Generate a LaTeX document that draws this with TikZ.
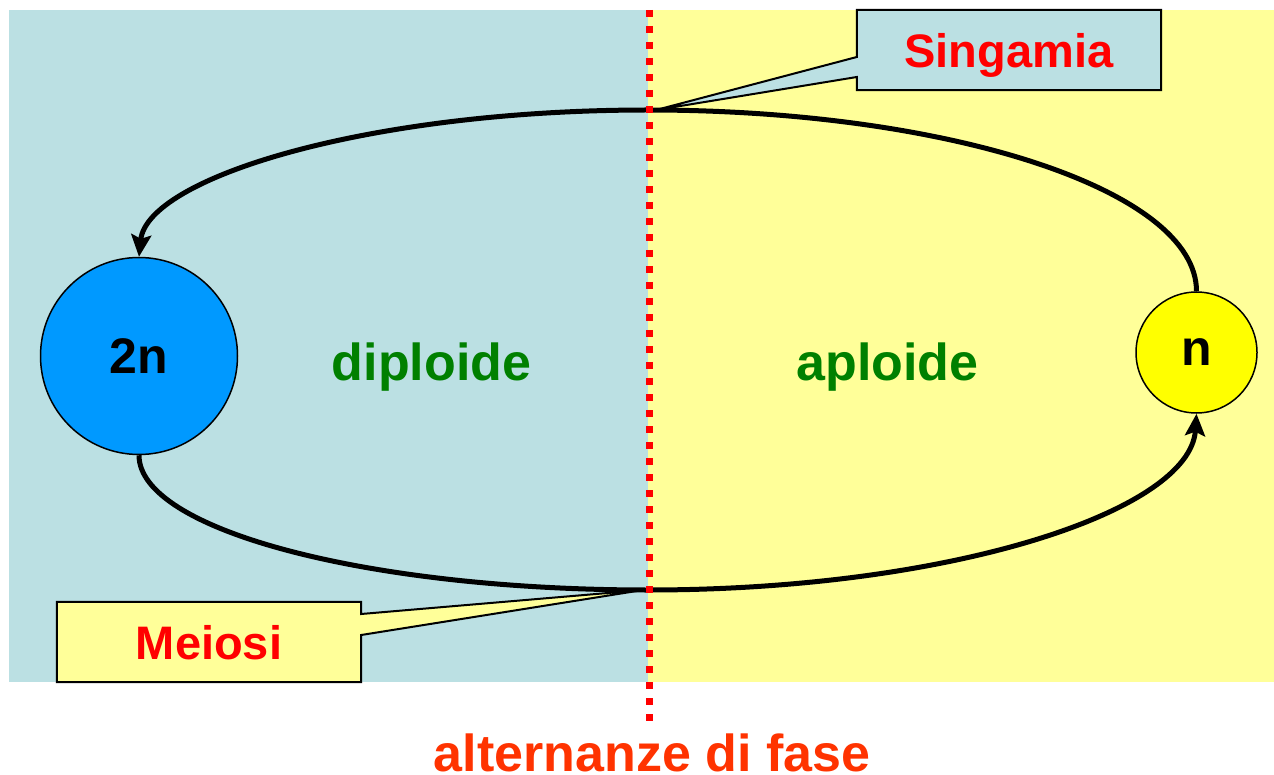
\documentclass[tikz,border=0pt]{standalone}
\usepackage{fontspec}
\setmainfont{Liberation Sans}
\usepackage{tikz}
\usetikzlibrary{arrows.meta}
\definecolor{paneblue}{HTML}{BBE0E3}
\definecolor{paneyellow}{HTML}{FFFF99}
\definecolor{cellblue}{HTML}{0099FF}
\definecolor{cellyellow}{HTML}{FFFF00}
\definecolor{phasegreen}{HTML}{008000}
\definecolor{phasered}{HTML}{FF3300}

\begin{document}
\begin{tikzpicture}[x=1pt,y=-1pt,>={Stealth[length=22pt,width=20pt,inset=4pt]},
		cell/.style={draw,circle,line width=1.5pt,inner sep=0pt,font=\fontsize{50}{60}\selectfont\bfseries},
		phase/.style={text=phasegreen,anchor=base,font=\fontsize{52}{62}\selectfont\bfseries},
		tag/.style={text=red,text depth=0pt,font=\fontsize{47}{56}\selectfont\bfseries},
		tagbox/.style={minimum width=304pt,minimum height=80pt,inner sep=0pt},
		calloutbox/.style={draw,line width=2pt,line join=miter},
		lifearrow/.style={->,line width=5pt}]
		\useasboundingbox (0,0) rectangle (1274,775);
		\fill[white] (0,0) rectangle (1274,775);
		\fill[paneblue] (9,10) rectangle (648,682);
		\fill[paneyellow] (648,10) rectangle (1274,682);
		
		\node[cell,fill=cellblue,minimum size=197pt] (dip) at (139,356) {2n};
		\node[cell,fill=cellyellow,minimum size=121pt] (ap) at (1196.5,352.5) {n};
		\node[phase] (dtxt) at (431.5,381) {diploide};
		\node[phase] (atxt) at (887.5,381) {aploide};
		
		\coordinate (syn) at (656,110);
		\coordinate (mei) at (643,590);
		\draw[lifearrow] (ap.north) .. controls +(0,-100.5) and (951,110) .. (648,110) .. controls (367,110) and (147,178) .. (dip.north);
		\draw[lifearrow] (dip.south) .. controls +(0,74.6) and (367,590) .. (648,590) .. controls (951,590) and (1190,511) .. (ap.south);
		
		\coordinate (ftop) at (649,10);
		\coordinate (fbot) at (649,722);
		\draw[red,line width=7pt,dash pattern=on 7pt off 9pt] (ftop) -- (fbot);
		
		\path node[tagbox] (sing) at (1009,50) {};
		\draw[calloutbox,fill=paneblue] (sing.north west) -- (sing.north east) -- (sing.south east) -- (sing.south west) -- ([yshift=-27pt]sing.west) -- (syn) -- ([yshift=-7pt]sing.west) -- cycle;
		\node[tag] (singtxt) at (sing) {Singamia};
		
		\path node[tagbox] (meio) at (209,642) {};
		\draw[calloutbox,fill=paneyellow] (meio.south east) -- (meio.south west) -- (meio.north west) -- (meio.north east) -- ([yshift=28pt]meio.east) -- (mei) -- ([yshift=7pt]meio.east) -- cycle;
		\node[tag] (meiotxt) at (meio) {Meiosi};
		
		\node[anchor=base,text=phasered,font=\fontsize{52}{62}\selectfont\bfseries] (alt) at (652,771) {alternanze di fase};
		
		\end{tikzpicture}
\end{document}
